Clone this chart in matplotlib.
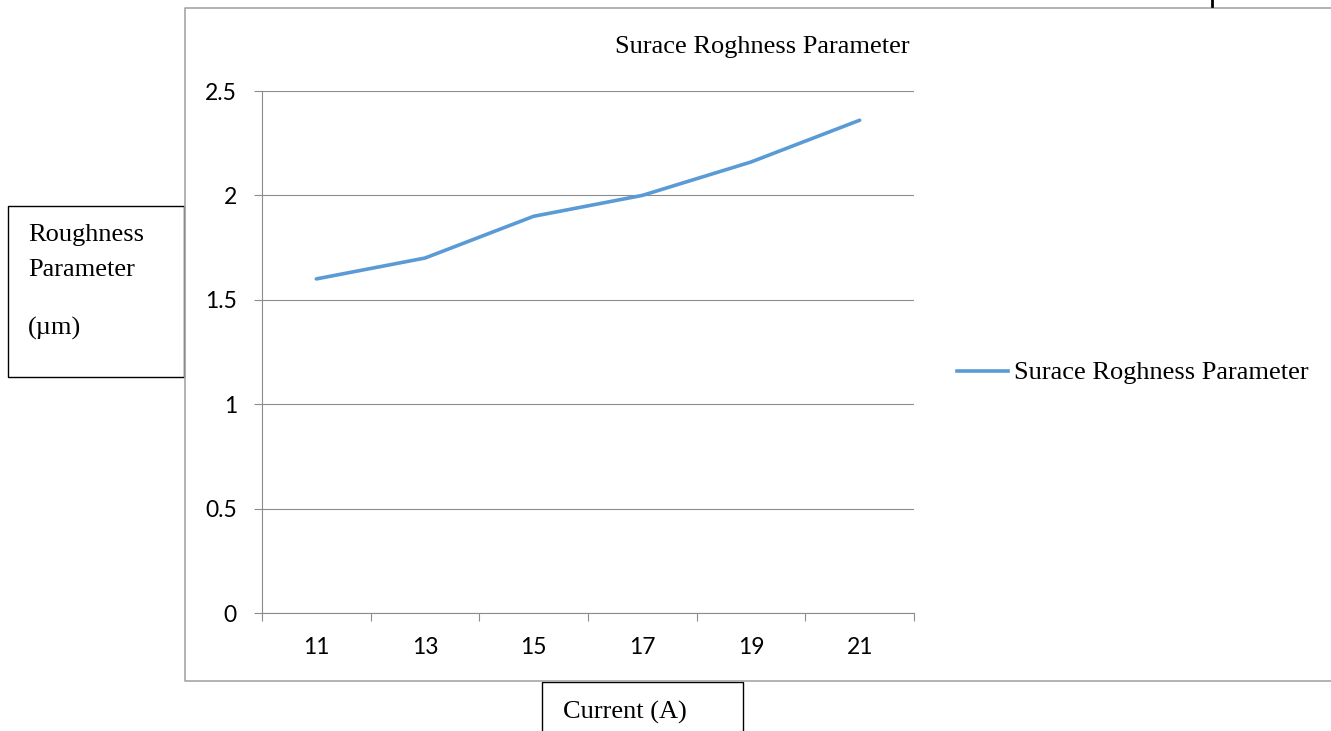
import matplotlib.pyplot as plt
from matplotlib.lines import Line2D
from matplotlib.patches import Rectangle

# data
current = [11, 13, 15, 17, 19, 21]
roughness = [1.6, 1.7, 1.9, 2.0, 2.16, 2.36]
y_ticks = [0, 0.5, 1, 1.5, 2, 2.5]
y_labels = ['0', '0.5', '1', '1.5', '2', '2.5']
series_name = 'Surace Roghness Parameter'

W, H = 1331, 731
serif = 'Liberation Serif'
sans = 'Lato'
grey = '#8c8c8c'
blue = '#5B9BD5'


def fx(x):
    return x / W


def fy(y):
    return 1 - y / H


fig = plt.figure(figsize=(W / 100, H / 100), dpi=100)

# plot area
ax = fig.add_axes([fx(262), fy(613), fx(914) - fx(262), fy(91) - fy(613)])
ax.plot(current, roughness, color=blue, lw=2.6, solid_capstyle='round')
ax.set_xlim(10, 22)
ax.set_ylim(0, 2.5)

ax.set_yticks(y_ticks)
ax.set_yticklabels(y_labels, fontfamily=sans, fontsize=16.5)
ax.set_xticks(range(10, 23, 2))
ax.set_xticklabels([])
ax.set_xticks(current, minor=True)
ax.set_xticklabels([str(c) for c in current], minor=True,
                   fontfamily=sans, fontsize=16.5)
ax.tick_params(axis='x', which='major', length=6, color=grey, width=0.8)
ax.tick_params(axis='x', which='minor', length=0, pad=17)
ax.tick_params(axis='y', length=6, color=grey, width=0.8, pad=12)

ax.grid(axis='y', color=grey, lw=0.8)
ax.set_axisbelow(True)
for s in ['top', 'right']:
    ax.spines[s].set_visible(False)
for s in ['left', 'bottom']:
    ax.spines[s].set_color(grey)
    ax.spines[s].set_linewidth(0.8)

# chart title
fig.text(fx(910), fy(47), series_name, ha='right', va='center',
         fontfamily=serif, fontsize=19)

# legend
fig.add_artist(Line2D([fx(957), fx(1008)], [fy(371), fy(371)],
                      color=blue, lw=2.6))
fig.text(fx(1014), fy(373), series_name, ha='left', va='center',
         fontfamily=serif, fontsize=19)

# outer chart frame (runs off the right edge)
fig.add_artist(Line2D([fx(1340), fx(185), fx(185), fx(1340)],
                      [fy(8), fy(8), fy(681), fy(681)],
                      color='#a6a6a6', lw=1.2))
fig.add_artist(Line2D([fx(1212), fx(1212)], [fy(0), fy(6)],
                      color='black', lw=2))

# y axis title box
fig.add_artist(Rectangle((fx(8), fy(377)), fx(184) - fx(8), fy(206) - fy(377),
                         fill=False, ec='black', lw=1))
fig.text(fx(28), fy(235), 'Roughness', ha='left', va='center',
         fontfamily=serif, fontsize=19)
fig.text(fx(28), fy(270), 'Parameter', ha='left', va='center',
         fontfamily=serif, fontsize=19)
fig.text(fx(28), fy(328), '(\u00b5m)', ha='left', va='center',
         fontfamily=serif, fontsize=19)

# x axis title box
fig.add_artist(Rectangle((fx(542), fy(740)), fx(743) - fx(542), fy(682) - fy(740),
                         fill=False, ec='black', lw=1))
fig.text(fx(563), fy(712), 'Current (A)', ha='left', va='center',
         fontfamily=serif, fontsize=19)

fig.savefig('out.png', dpi=100)
